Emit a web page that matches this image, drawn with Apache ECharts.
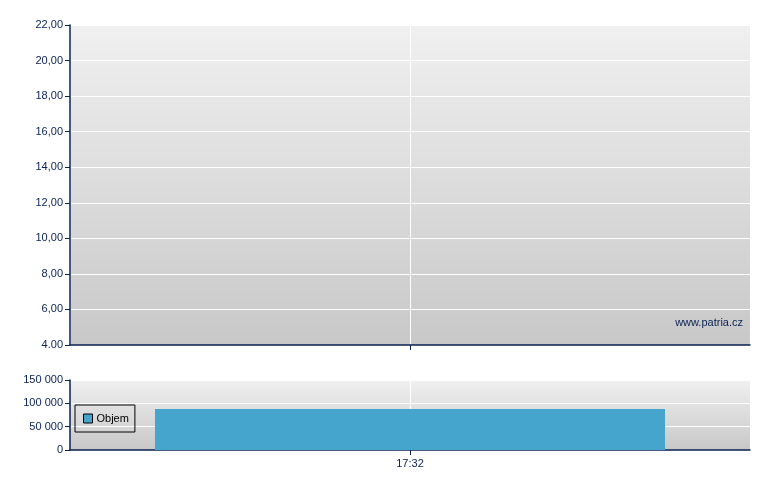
<!DOCTYPE html>
<html><head><meta charset="utf-8">
<script src="https://cdn.jsdelivr.net/npm/echarts@6/dist/echarts.min.js"></script>
<style>html,body{margin:0;padding:0;background:#fff}#c{width:780px;height:490px}</style>
</head><body><div id="c"></div>
<script>
const categories = ['', '17:32', ''];
const volume = [null, 88000, null];
const priceTicks = ['4.00','6,00','8,00','10,00','12,00','14,00','16,00','18,00','20,00','22,00'];
const volumeTicks = ['0','50 000','100 000','150 000'];
const seriesName = 'Objem';

const navy = '#0a2152';
const font = 'Liberation Sans, Arial, sans-serif';
const bg = () => new echarts.graphic.LinearGradient(0,0,0,1,[{offset:0,color:'#f0f0f0'},{offset:1,color:'#c8c8c8'}]);

const chart = echarts.init(document.getElementById('c'), null, {renderer:'canvas'});
chart.setOption({
  animation:false,
  textStyle:{fontFamily:font},
  grid:[
    {left:70, top:25, width:680, height:320, show:true, backgroundColor:bg(), borderWidth:0},
    {left:70, top:380, width:680, height:70, show:true, backgroundColor:bg(), borderWidth:0}
  ],
  legend:{
    data:[seriesName], left:75, top:405, orient:'vertical',
    padding:[8,6,8,8], itemWidth:9, itemHeight:9, itemGap:4,
    borderColor:'#000', borderWidth:1, borderRadius:0, icon:'rect',
    itemStyle:{borderColor:'#000', borderWidth:1},
    textStyle:{fontSize:11, color:'#000', fontFamily:font, padding:[0,0,0,-1]}
  },
  xAxis:[
    {gridIndex:0, type:'category', data:categories, boundaryGap:false,
     axisLine:{lineStyle:{color:navy, width:1.5}},
     axisTick:{length:5, lineStyle:{color:navy}, interval:(i)=>i===1},
     axisLabel:{show:false},
     splitLine:{show:true, lineStyle:{color:'#ffffff', width:1}}},
    {gridIndex:1, type:'category', data:categories, boundaryGap:false,
     axisLine:{lineStyle:{color:navy, width:1.5}},
     axisTick:{length:5, lineStyle:{color:navy}, interval:(i)=>i===1},
     axisLabel:{color:navy, fontSize:11, margin:8, interval:(i)=>i===1},
     splitLine:{show:true, lineStyle:{color:'#ffffff', width:1}}}
  ],
  yAxis:[
    {gridIndex:0, type:'value', min:4, max:22, interval:2,
     axisLine:{show:true, lineStyle:{color:navy, width:1.5}},
     axisTick:{show:true, length:5, lineStyle:{color:navy}},
     axisLabel:{color:navy, fontSize:11, margin:7, formatter:(v)=>priceTicks[Math.round((v-4)/2)]},
     splitLine:{show:true, lineStyle:{color:'#ffffff', width:1}}},
    {gridIndex:1, type:'value', min:0, max:150000, interval:50000,
     axisLine:{show:true, lineStyle:{color:navy, width:1.5}},
     axisTick:{show:true, length:5, lineStyle:{color:navy}},
     axisLabel:{color:navy, fontSize:11, margin:7, formatter:(v)=>volumeTicks[Math.round(v/50000)]},
     splitLine:{show:true, lineStyle:{color:'#ffffff', width:1}}}
  ],
  graphic:[
    {type:'text', right:37, top:317, style:{text:'www.patria.cz', fill:navy, font:'11px '+font}}
  ],
  series:[
    {name:seriesName, type:'bar', xAxisIndex:1, yAxisIndex:1, data:volume,
     barWidth:'150%', itemStyle:{color:'#45a5cc'}}
  ]
});
</script></body></html>
